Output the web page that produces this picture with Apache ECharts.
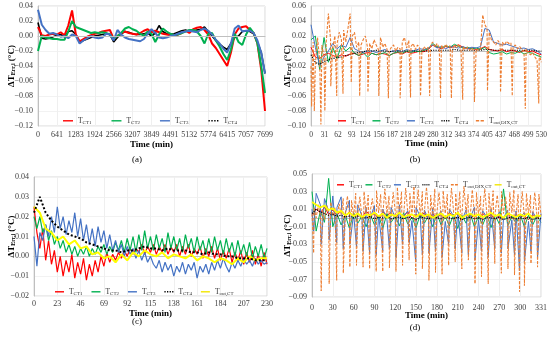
<!DOCTYPE html>
<html><head><meta charset="utf-8">
<script src="https://cdn.jsdelivr.net/npm/echarts/dist/echarts.min.js"></script>
<style>html,body{margin:0;padding:0;background:#fff}#c{width:550px;height:339px}</style>
</head><body><div id="c"></div>
<script>
// ---------- DATA (values in thousandths of °C) ----------
// Panel (a): 61 samples, 0..7699 min
const tickA = ['0','641','1283','1924','2566','3207','3849','4491','5132','5774','6415','7057','7699'];
const aCT1 = [12,1,0,2,3,2,5,1,14,34,2,-7,-4,-1,1,3,4,6,7,8,-4,0,4,6,4,3,2,4,7,9,5,7,5,3,2,1,0,2,4,7,4,9,11,12,8,2,-10,-16,-24,-32,-40,-22,2,10,12,13,8,4,-10,-45,-100];
const aCT2 = [-20,0,-2,-3,-4,-4,-5,-5,6,20,12,10,8,6,4,5,4,5,4,2,-4,0,4,10,12,9,7,3,0,6,3,-8,2,10,6,3,1,2,4,6,8,8,6,0,-10,3,4,-6,-14,-24,-32,-18,3,-8,-12,2,11,4,-10,-40,-76];
const aCT3 = [35,15,8,3,4,2,-1,0,-3,2,0,-10,-6,-3,0,-2,-3,-2,3,2,-6,8,2,-2,-4,-5,-6,-7,-4,3,9,4,-2,-3,-2,0,1,3,5,6,7,6,5,8,10,7,2,-5,-10,-17,-22,-10,10,14,6,7,7,4,-6,-22,-50];
const aCT4 = [18,-3,-4,-3,-1,1,2,-1,6,7,2,-8,-6,-4,-2,0,1,2,3,2,-8,-2,3,6,5,3,2,2,3,4,0,4,14,6,3,2,3,5,7,8,6,7,8,9,12,6,0,-6,-11,-15,-18,-10,-2,0,6,7,6,3,-8,-22,-50];

// Panel (b): CT series every 10 min, outlet baseline every 5 min + spikes
const tickB = ['0','31','62','93','124','156','187','218','249','280','312','343','374','405','437','468','499','530'];
const bCT1 = [5,-8,-10,-5,-3,-6,-8,-5,-7,-4,-3,-6,-4,-2,-3,-5,-3,-4,-6,-3,-2,-4,-1,-3,-2,0,-1,2,8,5,3,6,4,7,8,5,3,4,2,3,6,2,1,0,2,-1,1,0,-2,1,-1,0,-3,-5];
const bCT2 = [15,20,-25,18,-15,5,-10,8,0,5,-3,-6,-2,-8,-3,-5,-4,-2,-6,-3,-1,-3,0,-2,0,-1,1,3,10,6,4,7,5,9,6,4,5,3,4,2,5,-2,-4,-3,-1,-4,-2,-3,0,-4,-2,-3,-6,-8];
const bCT3 = [35,5,-20,-8,0,10,3,8,5,18,3,0,-2,1,0,-2,0,2,-1,0,1,-1,2,0,1,3,2,4,8,4,6,3,6,5,4,6,3,5,4,6,30,28,12,10,8,9,7,5,3,4,2,3,0,-4];
const bCT4 = [-5,-15,-18,-14,-12,-10,-9,-8,-6,-5,-3,-2,-1,0,0,1,0,0,-1,0,0,0,0,0,0,0,0,0,1,1,1,1,1,2,1,1,1,1,1,1,2,2,1,1,1,1,1,1,1,1,1,1,0,0];
const bOutBase = [-20,12,-18,18,-12,8,-8,12,50,15,5,20,10,25,15,28,12,30,50,20,25,5,12,8,15,20,5,10,3,15,8,2,18,5,10,2,0,5,8,0,5,3,12,18,4,14,6,10,2,8,4,-2,6,2,5,8,12,5,10,4,8,3,9,5,7,2,8,4,9,3,6,2,5,1,4,0,3,1,2,48,35,30,25,15,12,8,14,10,12,8,13,10,11,5,8,3,6,2,0,3,-3,-5,-2,-8,-12,-5,-15];
const bSpikeT = [1.5,7.6,22.8,31.9,45.5,59.2,73.6,92.6,112,131,156,178,205,229,252,273,298,323,349,376,406,436,463,493,524];
const bSpikeV = [-74,-80,-98,-80,-47,-60,-57,-42,-60,-55,-60,-63,-63,-62,-60,-60,-63,-63,-65,-68,-53,-55,-60,-77,-70];

// Panel (c): noisy series 81 samples, smooth ones 41 samples, 0..230 min
const tickC = ['0','23','46','69','92','115','138','161','184','207','230'];
const cCT1 = [25,12,4,14,-2,8,-4,3,-8,0,-10,-2,-8,1,-11,-3,-9,-1,-12,-4,-10,-2,-8,0,-5,2,-3,1,-2,2,-1,3,0,4,1,4,2,6,1,5,2,6,1,5,2,6,1,5,2,6,0,5,1,6,0,4,1,5,-1,4,0,5,-1,4,-2,3,-1,4,-3,2,-2,3,-4,2,-3,3,-4,1,-5,2,-4];
const cCT2 = [20,14,20,12,16,8,13,6,10,4,8,2,6,1,5,0,4,1,5,0,4,1,5,2,6,1,5,2,7,3,8,2,9,3,10,2,11,3,13,4,10,3,11,4,9,2,12,4,10,3,9,2,11,4,9,2,10,3,8,1,9,2,10,3,8,1,9,2,7,0,8,1,6,0,7,-1,5,0,6,-1,4];
const cCT3 = [10,-5,12,8,16,10,20,12,25,14,20,11,18,12,22,10,19,8,16,6,14,5,15,7,13,4,11,3,8,2,6,0,5,1,4,-1,3,-2,2,-3,0,-4,-6,-2,-8,-3,-7,-4,-10,-5,-8,-3,-9,-4,-7,-3,-11,-5,-8,-4,-9,-3,-7,-2,-6,-1,-5,-8,-3,-6,-2,-5,-1,-4,-2,-5,-1,-4,-2,-4,-3];
const cCT4 = [22,30,22,18,15,13,11,10,9,7,6,5,4,3,3,2,3,3,4,5,4,4,3,4,3,3,3,2,2,1,2,1,1,0,0,-1,-1,-1,-2,-2,-2];
const cOut = [25,22,14,12,8,10,6,8,4,5,1,2,-1,0,-3,1,-2,2,0,3,1,0,2,-1,1,0,-1,1,-2,0,-1,-3,-1,-2,-4,-1,-3,0,-2,-1,-1];

// Panel (d): 56 samples for most series, outlet DIX 111 samples + spikes, 0..331 min
const tickD = ['0','30','60','90','120','150','180','210','240','270','300','331'];
const dCT1 = [2,10,6,12,4,9,3,8,2,7,1,6,0,8,2,5,-1,7,3,6,0,5,2,7,-1,4,1,6,-2,5,0,4,-1,6,2,5,-2,4,0,3,-1,5,1,4,-2,3,0,5,-1,4,1,3,-2,4,0,3];
const dCT2 = [30,-15,8,-5,45,-10,5,-8,3,-12,6,-6,2,-10,4,-8,3,-12,5,-5,2,-9,6,-7,1,-11,4,-6,3,-10,5,-8,2,-9,4,-12,3,-6,5,-10,2,-8,4,-11,3,-7,33,-9,2,-6,4,-10,3,-8,2,-5];
const dCT3Base = [10,28,15,22,8,25,12,24,6,20,5,15,2,12,0,14,3,10,-2,12,0,15,2,8,-3,12,1,9,-2,11,0,8,-4,10,2,7,-3,9,0,12,-2,8,1,10,-3,7,0,9,-2,8,1,6,-4,7,-1,5];
const dCT4 = [5,10,7,5,3,4,2,3,1,2,0,2,1,0,2,-1,1,0,2,-1,0,1,-1,1,0,-2,1,0,-1,1,0,-1,2,0,-1,1,-2,0,1,-1,0,-2,1,0,-1,1,-2,0,1,-1,0,-1,1,-2,0,-1];
const dOutDixBase = [5,12,0,15,3,10,-2,14,5,18,2,12,0,16,4,22,3,25,6,20,2,28,5,24,0,30,4,26,8,22,2,31,6,27,3,33,5,25,1,29,7,35,4,30,2,34,6,28,3,36,5,32,2,30,7,35,4,26,1,33,6,29,3,31,5,27,2,34,8,28,3,30,4,36,6,27,2,32,5,29,3,25,7,33,4,28,1,31,6,26,3,30,5,24,2,29,6,32,3,27,4,30,1,28,5,26,2,29,4,27,3];
const dOut = [18,15,12,14,9,11,6,8,3,6,2,5,1,4,3,6,2,5,0,4,2,6,1,3,4,1,5,2,4,0,3,5,1,4,2,6,0,3,5,2,4,1,3,6,2,4,0,5,3,1,4,2,5,0,3,2];
const dSpikeT = [2.4,13.3,24.8,35.7,45.2,54.7,64.3,73.8,83.3,92.8,102.3,111.9,121.4,130.9,140.4,150,159.5,169,178.5,188,197.5,207,216.6,226,235.6,245,254.7,264.2,273.7,283.2,292.7,300,307,316.5,326];
const dOutSpikeV = [-40,-83,-75,-71,-63,-56,-54,-56,-58,-61,-61,-57,-61,-54,-48,-64,-58,-71,-62,-64,-54,-50,-58,-48,-75,-67,-75,-52,-63,-58,-65,-84,-77,-52,-56];
const dCT3SpikeV = [-15,-30,-25,-28,-35,-30,-33,-38,-40,-42,-38,-35,-45,-30,-28,-50,-42,-40,-38,-45,-30,-35,-40,-42,-48,-38,-45,-35,-40,-35,-42,-60,-50,-38,-45];

// ---------- helpers ----------
const SERIF = 'Liberation Serif';
const C = {r:'#FF0000', g:'#00B050', b:'#4472C4', k:'#000000', o:'#ED7D31', y:'#FFFF00'};
function pts(vals, maxT){ const st = maxT/(vals.length-1); return vals.map((v,i)=>[i*st, v/1000]); }
function withSpikes(vals, maxT, sT, sV){ const p = pts(vals, maxT); sT.forEach((t,j)=>p.push([t, sV[j]/1000])); p.sort((a,b)=>a[0]-b[0]); return p; }
function line(name, data, gi, color, width, type, extra){
  return Object.assign({name, type:'line', xAxisIndex:gi, yAxisIndex:gi, data, symbol:'none', showSymbol:false,
    animation:false, silent:true, lineStyle:{color, width, type: type||'solid'}, itemStyle:{color}}, extra||{});
}
const LBL = {};
['a','b','c','d'].forEach(p=>{ LBL[p+'1']='{t|T}{s|CT1}'; LBL[p+'2']='{t|T}{s|CT2}'; LBL[p+'3']='{t|T}{s|CT3}'; LBL[p+'4']='{t|T}{s|CT4}'; LBL[p+'x']='{t|T}{s|out,DIX,CT}'; LBL[p+'o']='{t|T}{s|out,CT}'; });
const LCOL = {'1':C.r, '2':C.g, '3':C.b, '4':C.k, 'x':C.o, 'o':'#F2E600'};
const ICON = {
  solid:  'path://M0,0h10v2h-10z',
  dotted: 'path://M0,0h1.4v2h-1.4z M2.9,0h1.4v2h-1.4z M5.8,0h1.4v2h-1.4z M8.6,0h1.4v2h-1.4z',
  dashed: 'path://M0,0h3.5v2h-3.5z M5,0h3.5v2h-3.5z'
};
const LICON = {'1':ICON.solid, '2':ICON.solid, '3':ICON.solid, '4':ICON.dotted, 'x':ICON.dashed, 'o':ICON.solid};
const richL = {t:{fontFamily:SERIF, fontSize:7.5, color:'#333', lineHeight:9, verticalAlign:'bottom'},
               s:{fontFamily:SERIF, fontSize:5, color:'#333', lineHeight:3, verticalAlign:'bottom'}};
function legend(left, iconCenterY, gap, iw, items){
  const ih = 1.4;
  return {left, top: iconCenterY - ih/2, orient:'horizontal', itemWidth:iw, itemHeight:ih, itemGap:gap, selectedMode:false, padding:0,
    width: 540 - left, symbolKeepAspect:false,
    data: items.map(n=>({name:n, icon:LICON[n[1]], itemStyle:{color:LCOL[n[1]], opacity:1}})),
    formatter: n=>LBL[n], textStyle:{fontFamily:SERIF, fontSize:7.5, color:'#333', rich:richL}};
}
const grids = [
  {left:38, right:285, top:6, bottom:213},
  {left:311, right:7, top:6, bottom:213},
  {left:34, right:283, top:177, bottom:43},
  {left:312, right:7, top:174, bottom:42}
];
grids.forEach(g=>{ g.show=true; g.borderColor='#d9d9d9'; g.borderWidth=1; g.containLabel=false; });
function xAx(gi, maxT, ticks, gap, fs, margin){
  const iv = maxT/(ticks.length-1);
  return {type:'value', gridIndex:gi, min:0, max:maxT, interval:iv,
    name:'Time (min)', nameLocation:'middle', nameGap:gap, nameMoveOverlap:false,
    nameTextStyle:{fontFamily:SERIF, fontSize:9, fontWeight:'bold', color:'#000'},
    axisLine:{show:true, lineStyle:{color:'#bfbfbf'}}, axisTick:{show:false},
    splitLine:{show:true, lineStyle:{color:'#efefef'}},
    axisLabel:{fontFamily:SERIF, fontSize:fs, color:'#404040', margin:margin,
      formatter: v=>{ const k=v/iv, r=Math.round(k); return Math.abs(k-r)<1e-6 && ticks[r]!==undefined ? ticks[r] : ''; }}};
}
function yAx(gi, min, max, iv, gap){
  return {type:'value', gridIndex:gi, min, max, interval:iv,
    name:'{t|ΔT}{s|Err,i}{t| (°C)}', nameLocation:'middle', nameGap:gap, nameRotate:90, nameMoveOverlap:false,
    nameTextStyle:{rich:{t:{fontFamily:SERIF, fontSize:9, fontWeight:'bold', color:'#000', lineHeight:11, verticalAlign:'bottom'},
                         s:{fontFamily:SERIF, fontSize:6, fontWeight:'bold', color:'#000', lineHeight:5, verticalAlign:'bottom'}}},
    axisLine:{show:true, lineStyle:{color:'#bfbfbf'}}, axisTick:{show:false},
    splitLine:{show:true, lineStyle:{color:'#f2f2f2'}},
    axisLabel:{fontFamily:SERIF, fontSize:8, color:'#404040', margin:5,
      formatter: v=>{ if (Math.abs(v)<1e-9) return '0.00'; return v.toFixed(2).replace('-', '\u2212'); }}};
}

const series = [
  // (a)
  line('a1', pts(aCT1,7699), 0, C.r, 2),
  line('a2', pts(aCT2,7699), 0, C.g, 2),
  line('a3', pts(aCT3,7699), 0, C.b, 2),
  line('a4', pts(aCT4,7699), 0, C.k, 1.6, 'solid', {markLine:{silent:true, symbol:'none', animation:false, label:{show:false},
      lineStyle:{color:'#bfbfbf', type:'solid', width:1}, data:[{yAxis:0}]}, z:1}),
  // (b)
  line('b1', pts(bCT1,530), 1, C.r, 1),
  line('b2', pts(bCT2,530), 1, C.g, 1),
  line('b3', pts(bCT3,530), 1, C.b, 1),
  line('b4', pts(bCT4,530), 1, C.k, 1.2, 'dotted'),
  line('bx', withSpikes(bOutBase,530,bSpikeT,bSpikeV), 1, C.o, 1.1, [3,1.5]),
  // (c)
  line('c1', pts(cCT1,230), 2, C.r, 1.2),
  line('c2', pts(cCT2,230), 2, C.g, 1.2),
  line('c3', pts(cCT3,230), 2, C.b, 1.2),
  line('co', pts(cOut,230), 2, C.y, 2),
  line('c4', pts(cCT4,230), 2, C.k, 2, 'dotted'),
  // (d)
  line('d1', pts(dCT1,331), 3, C.r, 1),
  line('d2', pts(dCT2,331), 3, C.g, 1),
  line('d3', withSpikes(dCT3Base,331,dSpikeT,dCT3SpikeV), 3, C.b, 1),
  line('dx', withSpikes(dOutDixBase,331,dSpikeT,dOutSpikeV), 3, C.o, 1, [3,1.5]),
  line('d4', pts(dCT4,331), 3, C.k, 1.2, 'dotted'),
  line('do', pts(dOut,331), 3, C.y, 1.8)
];

const option = {
  backgroundColor:'#fff', animation:false,
  grid: grids,
  xAxis: [xAx(0,7699,tickA,14,8,5), xAx(1,530,tickB,13,7.5,5), xAx(2,230,tickC,13,8,4), xAx(3,331,tickD,14,8,7)],
  yAxis: [yAx(0,-0.12,0.04,0.02,22), yAx(1,-0.10,0.06,0.02,19), yAx(2,-0.02,0.04,0.01,18), yAx(3,-0.09,0.05,0.02,20)],
  legend: [
    legend(63, 118, 20, 10, ['a1','a2','a3','a4']),
    legend(338, 118, 8, 8, ['b1','b2','b3','b4','bx']),
    legend(55, 289, 9, 9, ['c1','c2','c3','c4','co']),
    legend(337, 182, 3, 7, ['d1','d2','d3','d4','dx','do'])
  ],
  series,
  graphic: [
    {type:'text', x:137, y:160, style:{text:'(a)', font:'9px "Liberation Serif"', fill:'#000', textAlign:'center', textVerticalAlign:'middle'}},
    {type:'text', x:415, y:160, style:{text:'(b)', font:'9px "Liberation Serif"', fill:'#000', textAlign:'center', textVerticalAlign:'middle'}},
    {type:'text', x:137, y:322, style:{text:'(c)', font:'9px "Liberation Serif"', fill:'#000', textAlign:'center', textVerticalAlign:'middle'}},
    {type:'text', x:415, y:328, style:{text:'(d)', font:'9px "Liberation Serif"', fill:'#000', textAlign:'center', textVerticalAlign:'middle'}}
  ]
};
const chart = echarts.init(document.getElementById('c'), null, {renderer:'canvas'});
chart.setOption(option);
</script></body></html>
